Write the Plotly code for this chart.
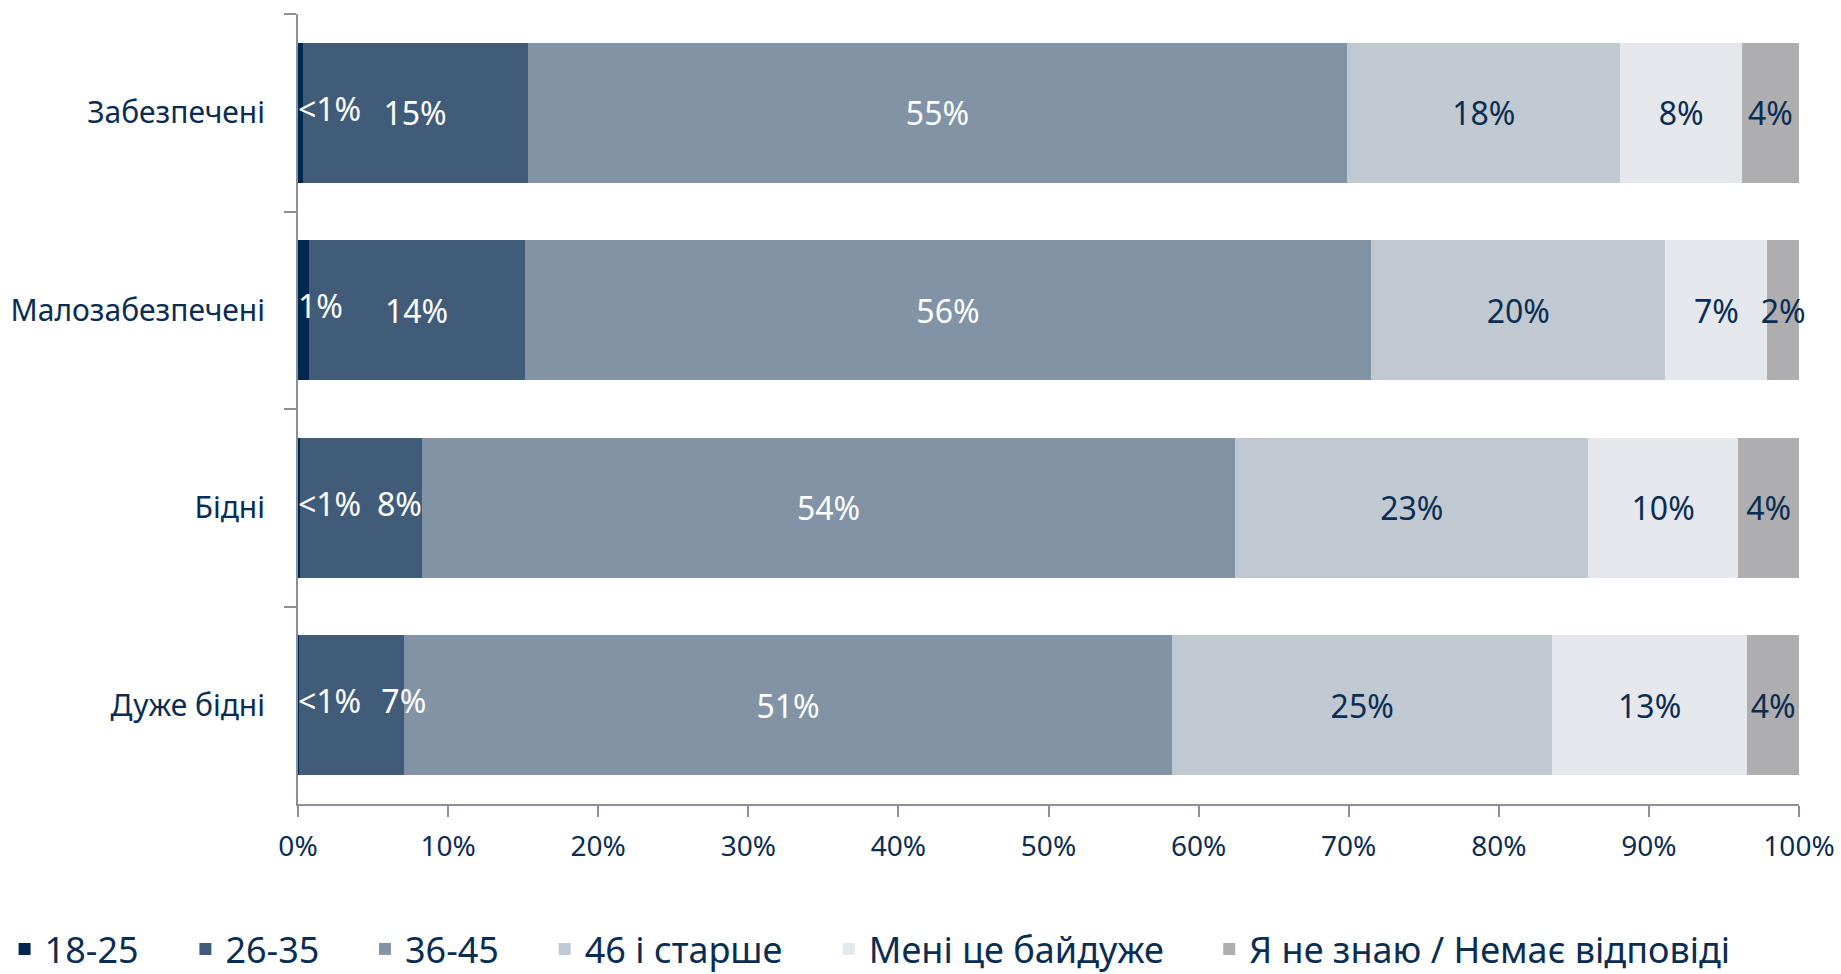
import plotly.graph_objects as go

categories = ["Забезпечені", "Малозабезпечені", "Бідні", "Дуже бідні"]
series_names = ["18-25", "26-35", "36-45", "46 і старше", "Мені це байдуже", "Я не знаю / Немає відповіді"]

v_18_25 = [0.3, 0.7, 0.15, 0.05]
v_26_35 = [15.0, 14.4, 8.1, 7.0]
v_36_45 = [54.6, 56.4, 54.2, 51.2]
v_46_plus = [18.2, 19.6, 23.5, 25.3]
v_indifferent = [8.1, 6.8, 10.0, 13.0]
v_dont_know = [3.8, 2.1, 4.05, 3.45]

t_18_25 = ["<1%", "1%", "<1%", "<1%"]
t_26_35 = ["15%", "14%", "8%", "7%"]
t_36_45 = ["55%", "56%", "54%", "51%"]
t_46_plus = ["18%", "20%", "23%", "25%"]
t_indifferent = ["8%", "7%", "10%", "13%"]
t_dont_know = ["4%", "2%", "4%", "4%"]

x_ticks = [0, 10, 20, 30, 40, 50, 60, 70, 80, 90, 100]
x_tick_labels = ["0%", "10%", "20%", "30%", "40%", "50%", "60%", "70%", "80%", "90%", "100%"]

values = [v_18_25, v_26_35, v_36_45, v_46_plus, v_indifferent, v_dont_know]
texts = [t_18_25, t_26_35, t_36_45, t_46_plus, t_indifferent, t_dont_know]
colors = ["#03284f", "#415c78", "#8193a5", "#c0c8d2", "#e4e8ec", "#aeaeb0"]
text_colors = ["#ffffff", "#ffffff", "#ffffff", "#0b2d52", "#0b2d52", "#0b2d52"]

NAVY = "#0b2d52"
FONT = "Noto Sans"
LABEL_SIZE = 32
W, H = 1841, 974
ML, MR, MT, MB = 298, 42, 14, 170
PW = W - ML - MR
PH = H - MT - MB

# legend item left edges (px) -> paper coords
legend_px = [4.6, 185.4, 365.0, 544.7, 828.8, 1209.2]
legend_x = [(p - ML) / PW for p in legend_px]
legend_y = (H - MB - 949) / PH

# rows where the 26-35 label is pushed towards the segment's end (as in the source)
shifted_rows = [2, 3]
end_26_35 = [a + b for a, b in zip(v_18_25, v_26_35)]

fig = go.Figure()
for i, (name, vals, txt, col, tcol) in enumerate(zip(series_names, values, texts, colors, text_colors)):
    if i == 0:
        bar_text = None
    elif i == 1:
        bar_text = ["" if k in shifted_rows else t for k, t in enumerate(txt)]
    else:
        bar_text = txt
    fig.add_trace(go.Bar(
        y=categories, x=vals, name=name, orientation="h",
        marker=dict(color=col, line=dict(width=0)),
        text=bar_text,
        textposition="inside", textangle=0,
        insidetextanchor="middle",
        constraintext="none", cliponaxis=False,
        textfont=dict(family=FONT, size=LABEL_SIZE, color=tcol),
        hoverinfo="x+y+name",
        legend="legend" if i == 0 else f"legend{i+1}",
    ))

# labels of the thin first segment, starting at its base and drawn above the stack
fig.add_trace(go.Scatter(
    y=categories, x=[0] * len(categories), mode="text",
    text=t_18_25, textposition="middle right",
    textfont=dict(family=FONT, size=LABEL_SIZE, color="#ffffff"),
    showlegend=False, hoverinfo="skip", cliponaxis=False,
))
# 26-35 labels of the narrow rows, anchored at the segment end
fig.add_trace(go.Scatter(
    y=[categories[k] for k in shifted_rows],
    x=[end_26_35[k] for k in shifted_rows],
    text=[t_26_35[k] for k in shifted_rows],
    mode="text", textposition=["middle left", "middle center"],
    textfont=dict(family=FONT, size=LABEL_SIZE, color="#ffffff"),
    showlegend=False, hoverinfo="skip", cliponaxis=False,
))

layout_legends = {}
for i, lx in enumerate(legend_x):
    key = "legend" if i == 0 else f"legend{i+1}"
    layout_legends[key] = dict(
        x=lx, xanchor="left", y=legend_y, yanchor="middle",
        orientation="h", font=dict(family=FONT, size=36, color=NAVY),
        bgcolor="rgba(0,0,0,0)", borderwidth=0,
    )

fig.update_layout(
    width=W, height=H,
    margin=dict(l=ML, r=MR, t=MT, b=MB, pad=0, autoexpand=False),
    barmode="stack", bargap=0.29,
    plot_bgcolor="white", paper_bgcolor="white",
    font=dict(family=FONT, color=NAVY),
    showlegend=True,
    **layout_legends,
)
fig.update_xaxes(
    range=[0, 100], tickvals=x_ticks, ticktext=x_tick_labels,
    showgrid=False, zeroline=False,
    showline=True, linecolor="#8e9099", linewidth=2,
    ticks="outside", ticklen=11, tickwidth=1.5, tickcolor="#8e9099",
    tickfont=dict(family=FONT, size=28, color=NAVY),
    ticklabelstandoff=5,
)
fig.update_yaxes(
    categoryorder="array", categoryarray=categories, autorange="reversed",
    showgrid=False, zeroline=False,
    showline=True, linecolor="#8e9099", linewidth=2,
    ticks="outside", ticklen=12, tickwidth=1.5, tickcolor="#8e9099",
    tickson="boundaries",
    tickfont=dict(family=FONT, size=30, color=NAVY),
    ticklabelstandoff=25,
)

fig.write_html("out.html", config={"displayModeBar": False},
               post_script="document.body.style.margin='0';")
